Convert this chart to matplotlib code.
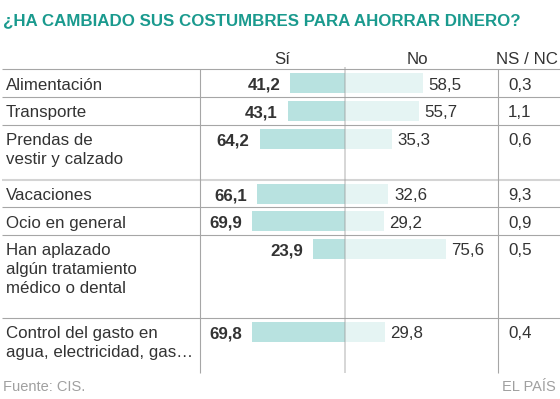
import matplotlib
matplotlib.use("Agg")
import matplotlib.pyplot as plt
import numpy as np

# ---- data ----
categories = ["Alimentación", "Transporte", "Prendas de\nvestir y calzado",
              "Vacaciones", "Ocio en general",
              "Han aplazado\nalgún tratamiento\nmédico o dental",
              "Control del gasto en\nagua, electricidad, gas…"]
si = [41.2, 43.1, 64.2, 66.1, 69.9, 23.9, 69.8]
no = [58.5, 55.7, 35.3, 32.6, 29.2, 75.6, 29.8]
nsnc = [0.3, 1.1, 0.6, 9.3, 0.9, 0.5, 0.4]
headers = ["Sí", "No", "NS / NC"]
title = "¿HA CAMBIADO SUS COSTUMBRES PARA AHORRAR DINERO?"
source = "Fuente: CIS."
brand = "EL PAÍS"


def fmt(v):
    return f"{v:.1f}".replace(".", ",")


plt.rcParams['font.family'] = ['Liberation Sans', 'DejaVu Sans']
TXT = '#333333'
C_SI = '#b8e2e0'
C_NO = '#e5f4f3'
TEAL = '#1a9a8e'
FS = 12.2

W, H = 560, 399
fig = plt.figure(figsize=(W / 100, H / 100), dpi=100)
ax = fig.add_axes([0, 0, 1, 1])
ax.set_xlim(0, W)
ax.set_ylim(H, 0)
ax.axis('off')

X0, X1, CX, PX = 200, 498, 345, 1.33
bx = fig.add_axes([X0 / W, 0, (X1 - X0) / W, 1])
bx.set_xlim((X0 - CX) / PX, (X1 - CX) / PX)
bx.set_ylim(H, 0)
bx.axis('off')
bx.patch.set_facecolor('none')

# row geometry
TOP0, UNIT, LS = 69.3, 27.6, 19.0
nlines = [len(c.split("\n")) for c in categories]
tops = [TOP0]
for n in nlines:
    tops.append(tops[-1] + UNIT * n)
tops = np.array(tops)
centers = tops[:-1] + 14
BOTTOM = tops[-1]

# title, headers
ax.text(3, 25, title, fontsize=FS, fontweight='bold', color=TEAL, va='baseline', ha='left')
ax.text(282, 63.5, headers[0], fontsize=FS, color=TXT, va='baseline', ha='center')
ax.text(417, 63.5, headers[1], fontsize=FS, color=TXT, va='baseline', ha='center')
ax.text(558, 63.5, headers[2], fontsize=FS, color=TXT, va='baseline', ha='right')

# bars
bx.barh(centers, -np.array(si), height=20, left=0, color=C_SI, zorder=2)
bx.barh(centers, no, height=20, left=0, color=C_NO, zorder=2)
bx.plot([0, 0], [67, BOTTOM], color='#999999', alpha=0.5, lw=1.1, zorder=3,
        solid_capstyle='butt')

for i in range(len(categories)):
    base = tops[i] + 20.5
    for j, line in enumerate(categories[i].split("\n")):
        ax.text(6, base + j * LS, line, fontsize=FS, color=TXT, va='baseline', ha='left')
    bx.annotate(fmt(si[i]), xy=(-si[i], base), xytext=(-7.3, 0), textcoords='offset points',
                fontsize=FS, fontweight='bold', color=TXT, va='baseline', ha='right')
    bx.annotate(fmt(no[i]), xy=(no[i], base), xytext=(4.0, 0), textcoords='offset points',
                fontsize=FS, color=TXT, va='baseline', ha='left')
    ax.text(508, base, fmt(nsnc[i]), fontsize=FS, color=TXT, va='baseline', ha='left')

# grid lines
for k, t in enumerate(tops[:-1]):
    if k == 3:
        ax.plot([2, W], [t, t], color='#d4d4d4', lw=1.5, solid_capstyle='butt')
    else:
        ax.plot([2, W], [t, t], color='#a6a6a6', lw=0.8, solid_capstyle='butt')
for xv in (X0, X1):
    ax.plot([xv, xv], [TOP0, BOTTOM], color='#a6a6a6', lw=0.8, solid_capstyle='butt')

# footer
ax.text(3, 391, source, fontsize=10.5, color='#a0a0a0', va='baseline', ha='left')
ax.text(556, 391, brand, fontsize=10.5, color='#a0a0a0', va='baseline', ha='right')

fig.savefig('out.png', dpi=100)
